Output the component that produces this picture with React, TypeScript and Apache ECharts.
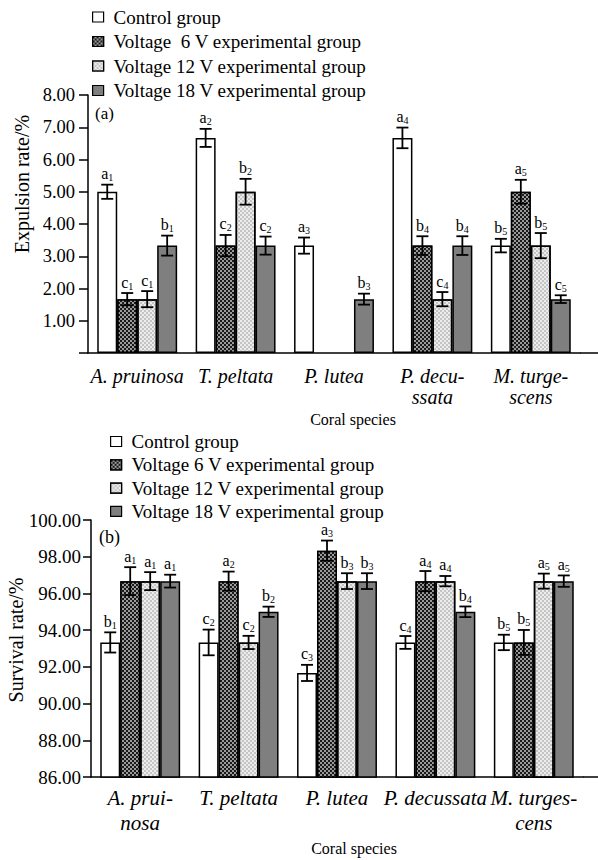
import React, { useEffect, useRef } from "react";
import * as echarts from "echarts";

const seriesNamesTop = [
  "Control group",
  "Voltage  6 V experimental group",
  "Voltage 12 V experimental group",
  "Voltage 18 V experimental group",
];
const seriesNamesBottom = [
  "Control group ",
  "Voltage 6 V experimental group",
  "Voltage 12 V experimental group ",
  "Voltage 18 V experimental group ",
];
const legendBottomLabels = [
  "Control group",
  "Voltage 6 V experimental group",
  "Voltage 12 V experimental group",
  "Voltage 18 V experimental group",
];

const categoriesTop = ["A. pruinosa", "T. peltata", "P. lutea", "P. decu-\nssata", "M. turge-\nscens"];
const categoriesBottom = ["A. prui-\nnosa", "T. peltata", "P. lutea", "P. decussata", "M. turges-\ncens"];

// (a) Expulsion rate
const controlTop = [5.0, 6.67, 3.33, 6.67, 3.33];
const controlTopErr = [0.22, 0.28, 0.25, 0.32, 0.21];
const controlTopLab = ["a1", "a2", "a3", "a4", "b5"];
const v6Top = [1.67, 3.33, null, 3.33, 5.0];
const v6TopErr = [0.19, 0.33, null, 0.29, 0.37];
const v6TopLab = ["c1", "c2", "", "b4", "a5"];
const v12Top = [1.67, 5.0, null, 1.67, 3.33];
const v12TopErr = [0.25, 0.4, null, 0.22, 0.39];
const v12TopLab = ["c1", "b2", "", "c4", "b5"];
const v18Top = [3.33, 3.33, 1.67, 3.33, 1.67];
const v18TopErr = [0.31, 0.28, 0.17, 0.29, 0.12];
const v18TopLab = ["b1", "c2", "b3", "b4", "c5"];

// (b) Survival rate
const controlBot = [93.33, 93.33, 91.67, 93.33, 93.33];
const controlBotErr = [0.55, 0.7, 0.44, 0.35, 0.42];
const controlBotLab = ["b1", "c2", "c3", "c4", "b5"];
const v6Bot = [96.67, 96.67, 98.33, 96.67, 93.33];
const v6BotErr = [0.76, 0.52, 0.55, 0.55, 0.68];
const v6BotLab = ["a1", "a2", "a3", "a4", "b5"];
const v12Bot = [96.67, 93.33, 96.67, 96.67, 96.67];
const v12BotErr = [0.49, 0.36, 0.43, 0.28, 0.41];
const v12BotLab = ["a1", "c2", "b3", "a4", "a5"];
const v18Bot = [96.67, 95.0, 96.67, 95.0, 96.67];
const v18BotErr = [0.35, 0.28, 0.43, 0.29, 0.31];
const v18BotLab = ["a1", "b2", "b3", "b4", "a5"];

const FONT = "Liberation Serif";
const BAR_FRAC = 0.203;

const fills = [
  { color: "#ffffff" },
  {
    color: "#1a1a1a",
    decal: {
      symbol: "rect",
      color: "#ffffff",
      symbolSize: 0.75,
      dashArrayX: [[2, 2], [0, 2, 2, 0]],
      dashArrayY: [2, 0],
      rotation: 0,
    },
  },
  {
    color: "#ececec",
    decal: {
      symbol: "rect",
      color: "#a0a0a0",
      symbolSize: 0.7,
      dashArrayX: [[2, 2], [0, 2, 2, 0]],
      dashArrayY: [2, 0],
      rotation: 0,
    },
  },
  { color: "#7f7f7f" },
];

function buildErr(vals: (number | null)[][], errs: (number | null)[][], labs: string[][]) {
  const data: number[][] = [];
  const labels: string[] = [];
  vals.forEach((arr, g) => {
    arr.forEach((v, c) => {
      if (v === null) return;
      data.push([c, v, errs[g][c] as number, g]);
      labels.push(labs[g][c]);
    });
  });
  return { data, labels };
}

function richLabel(s: string) {
  if (!s) return "";
  return `{m|${s.slice(0, 1)}}{s|${s.slice(1)}}`;
}

function makeErrSeries(xi: number, built: { data: number[][]; labels: string[] }) {
  return {
    type: "custom",
    xAxisIndex: xi,
    yAxisIndex: xi,
    z: 10,
    silent: true,
    clip: false,
    data: built.data,
    encode: { x: 0, y: 1 },
    renderItem: (params: any, api: any) => {
      const c = api.value(0);
      const v = api.value(1);
      const e = api.value(2);
      const g = api.value(3);
      const band = api.size([1, 0])[0];
      const bw = band * BAR_FRAC;
      const center = api.coord([c, v]);
      const x = center[0] + (g - 1.5) * bw;
      const top = api.coord([c, v + e])[1];
      const bot = api.coord([c, v - e])[1];
      const cap = 6;
      const ls = { stroke: "#000", lineWidth: 1.8 };
      const label = built.labels[params.dataIndex];
      return {
        type: "group",
        children: [
          { type: "line", shape: { x1: x, y1: top, x2: x, y2: bot }, style: ls },
          { type: "line", shape: { x1: x - cap, y1: top, x2: x + cap, y2: top }, style: ls },
          { type: "line", shape: { x1: x - cap, y1: bot, x2: x + cap, y2: bot }, style: ls },
          {
            type: "text",
            x: x,
            y: top - 2,
            style: {
              text: richLabel(label),
              align: "center",
              verticalAlign: "bottom",
              fill: "#000",
              fontFamily: FONT,
              fontSize: 16,
              rich: {
                m: { fontFamily: FONT, fontSize: 16, lineHeight: 18, fill: "#000" },
                s: { fontFamily: FONT, fontSize: 10, lineHeight: 10, verticalAlign: "bottom", fill: "#000" },
              },
            },
          },
        ],
      };
    },
  };
}

export default function App() {
  const ref = useRef<HTMLDivElement>(null);
  useEffect(() => {
    if (!ref.current) return;
    const chart = echarts.init(ref.current, undefined, { renderer: "svg" });

    const topVals = [controlTop, v6Top, v12Top, v18Top];
    const topErrs = [controlTopErr, v6TopErr, v12TopErr, v18TopErr];
    const topLabs = [controlTopLab, v6TopLab, v12TopLab, v18TopLab];
    const botVals = [controlBot, v6Bot, v12Bot, v18Bot];
    const botErrs = [controlBotErr, v6BotErr, v12BotErr, v18BotErr];
    const botLabs = [controlBotLab, v6BotLab, v12BotLab, v18BotLab];

    const barSeries: any[] = [];
    topVals.forEach((vals, g) => {
      barSeries.push({
        type: "bar",
        name: seriesNamesTop[g],
        xAxisIndex: 0,
        yAxisIndex: 0,
        barWidth: BAR_FRAC * 100 + "%",
        barGap: "0%",
        data: vals.map((v) => (v === null ? "-" : v)),
        itemStyle: { ...fills[g], borderColor: "#000", borderWidth: 1.5 },
        silent: true,
      });
    });
    botVals.forEach((vals, g) => {
      barSeries.push({
        type: "bar",
        name: seriesNamesBottom[g],
        xAxisIndex: 1,
        yAxisIndex: 1,
        barWidth: BAR_FRAC * 100 + "%",
        barGap: "0%",
        data: vals,
        itemStyle: { ...fills[g], borderColor: "#000", borderWidth: 1.5 },
        silent: true,
      });
    });

    const axisLineStyle = { lineStyle: { color: "#000", width: 1.5 } };
    const legendCommon = {
      orient: "vertical",
      itemWidth: 11,
      itemHeight: 10,
      icon: "rect",
      selectedMode: false,
      textStyle: {
        fontFamily: FONT,
        fontSize: 19,
        lineHeight: 19,
        color: "#000",
        padding: [0, 0, 0, 5],
      },
      itemStyle: { borderColor: "#000", borderWidth: 1.2 },
    };

    chart.setOption({
      animation: false,
      backgroundColor: "#ffffff",
      legend: [
        { ...legendCommon, left: 87, top: 2.5, itemGap: 5.5, data: seriesNamesTop },
        {
          ...legendCommon,
          left: 105,
          top: 427,
          itemGap: 4.3,
          data: seriesNamesBottom,
          formatter: (n: string) => legendBottomLabels[seriesNamesBottom.indexOf(n)],
        },
      ],
      grid: [
        { left: 88, top: 95, width: 492, height: 258 },
        { left: 91, top: 520, width: 492, height: 257 },
      ],
      xAxis: [
        {
          type: "category",
          gridIndex: 0,
          data: categoriesTop,
          axisLine: axisLineStyle,
          axisTick: { alignWithLabel: true, length: 5, lineStyle: { color: "#000", width: 1.5 } },
          axisLabel: {
            interval: 0,
            margin: 12,
            fontFamily: FONT,
            fontStyle: "italic",
            fontSize: 20,
            lineHeight: 21,
            color: "#000",
          },
        },
        {
          type: "category",
          gridIndex: 1,
          data: categoriesBottom,
          axisLine: axisLineStyle,
          axisTick: { alignWithLabel: true, length: 5, lineStyle: { color: "#000", width: 1.5 } },
          axisLabel: {
            interval: 0,
            margin: 8,
            fontFamily: FONT,
            fontStyle: "italic",
            fontSize: 21,
            lineHeight: 25,
            color: "#000",
          },
        },
      ],
      yAxis: [
        {
          type: "value",
          gridIndex: 0,
          min: 0,
          max: 8,
          interval: 1,
          axisLine: { show: true, ...axisLineStyle },
          axisTick: { show: true, length: 9, lineStyle: { color: "#000", width: 1.5 } },
          splitLine: { show: false },
          axisLabel: {
            margin: 13,
            fontFamily: FONT,
            fontSize: 18.5,
            color: "#000",
            formatter: (v: number) => (v === 0 ? "" : v.toFixed(2)),
          },
        },
        {
          type: "value",
          gridIndex: 1,
          min: 86,
          max: 100,
          interval: 2,
          axisLine: { show: true, ...axisLineStyle },
          axisTick: { show: true, length: 8, lineStyle: { color: "#000", width: 1.5 } },
          splitLine: { show: false },
          axisLabel: {
            margin: 10,
            fontFamily: FONT,
            fontSize: 19,
            color: "#000",
            formatter: (v: number) => v.toFixed(2),
          },
        },
      ],
      graphic: [
        { type: "line", shape: { x1: 580, y1: 353, x2: 598, y2: 353 }, style: { stroke: "#000", lineWidth: 1.5 } },
        { type: "line", shape: { x1: 583, y1: 777, x2: 598, y2: 777 }, style: { stroke: "#000", lineWidth: 1.5 } },
        {
          type: "text",
          x: 22,
          y: 184,
          rotation: Math.PI / 2,
          style: { text: "Expulsion rate/%", fontFamily: FONT, fontSize: 20, fill: "#000", align: "center", verticalAlign: "middle" },
        },
        {
          type: "text",
          x: 16,
          y: 640,
          rotation: Math.PI / 2,
          style: { text: "Survival rate/%", fontFamily: FONT, fontSize: 20, fill: "#000", align: "center", verticalAlign: "middle" },
        },
        {
          type: "text",
          x: 353,
          y: 419,
          style: { text: "Coral species", fontFamily: FONT, fontSize: 16, fill: "#000", align: "center", verticalAlign: "middle" },
        },
        {
          type: "text",
          x: 354,
          y: 848,
          style: { text: "Coral species", fontFamily: FONT, fontSize: 16, fill: "#000", align: "center", verticalAlign: "middle" },
        },
        {
          type: "text",
          x: 95,
          y: 113,
          style: { text: "(a)", fontFamily: FONT, fontSize: 17, fill: "#000", align: "left", verticalAlign: "middle" },
        },
        {
          type: "text",
          x: 99,
          y: 537,
          style: { text: "(b)", fontFamily: FONT, fontSize: 18, fill: "#000", align: "left", verticalAlign: "middle" },
        },
      ],
      series: [
        ...barSeries,
        makeErrSeries(0, buildErr(topVals, topErrs, topLabs)),
        makeErrSeries(1, buildErr(botVals, botErrs, botLabs)),
      ],
    });
    return () => chart.dispose();
  }, []);
  return <div ref={ref} style={{ position: "fixed", left: 0, top: 0, width: 598, height: 860 }} />;
}
